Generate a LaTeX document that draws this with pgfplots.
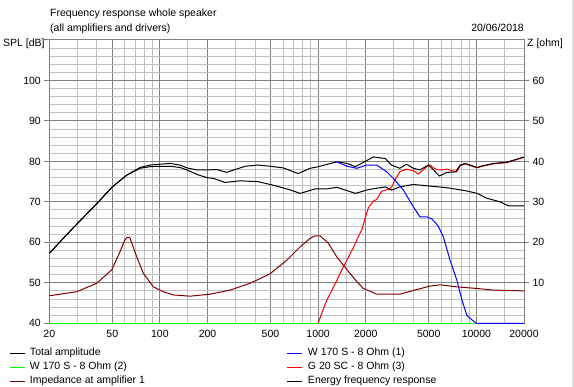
\documentclass[border=0pt]{standalone}
\usepackage{fontspec}
\setmainfont{Liberation Sans}
\usepackage{pgfplots}
\pgfplotsset{compat=1.18}
\definecolor{gridmaj}{RGB}{128,128,128}
\definecolor{gridmin}{RGB}{192,192,192}
\definecolor{impred}{RGB}{128,0,0}
\definecolor{pureblue}{RGB}{0,0,255}
\definecolor{purered}{RGB}{255,0,0}
\definecolor{puregreen}{RGB}{0,255,0}
\newcommand{\fs}{\fontsize{10.5}{12}\selectfont}
\begin{document}
\begin{tikzpicture}[x=1pt,y=1pt]
\useasboundingbox (0,0) rectangle (574,387);
\begin{axis}[
  at={(49.3pt,63.7pt)}, anchor=south west,
  width=474.7pt, height=283.3pt, scale only axis,
  clip=false,
  xmode=log, xmin=20, xmax=20000, ymin=40, ymax=110,
  xtick={20,50,100,200,500,1000,2000,5000,10000,20000},
  xticklabels={20,50,100,200,500,1000,2000,5000,10000,20000},
  minor xtick={30,40,60,70,80,90,150,300,400,600,700,800,900,1500,3000,4000,6000,7000,8000,9000,15000},
  ytick={40,50,60,70,80,90,100,110},
  yticklabels={40,50,60,70,80,90,100,{}},
  minor ytick={42,44,...,108},
  ytick pos=left,
  grid=both,
  major grid style={gridmaj, line width=1pt},
  minor grid style={gridmin, line width=1pt},
  axis line style={gridmaj, line width=1pt},
  tick align=outside,
  major tick length=5pt,
  minor tick length=0pt,
  xtick style={draw=none},
  ytick style={gridmaj, line width=1pt},
  tick label style={font=\fs, /pgf/number format/assume math mode=true},
  xticklabel style={yshift=2pt},
  legend style={at={(axis description cs:-0.0849,-0.082)}, anchor=north west,
    draw=none, fill=none, inner sep=0pt, outer sep=0pt, row sep=0pt, column sep=0pt,
    font=\fs, nodes={inner xsep=5pt, inner ysep=0pt, text height=9pt, text depth=5pt}},
  legend cell align=left,
  legend columns=2,
  legend image code/.code={\draw[line width=1pt, #1] (0pt,0pt) -- (15pt,0pt);},
]
% W 170 S (2) -- below range, drawn on the bottom edge
\addplot[puregreen, line width=1pt, forget plot] coordinates {(20,40) (20000,40)};
% G 20 SC (3)
\addplot[purered, line width=1pt, forget plot] coordinates {
(1000,40.0) (1054,42.5) (1136,45.8) (1252,49.0) (1446,54.0) (1678,58.9) (1756,60.6)
(1890,63.2) (1984,66.0) (2080,68.6) (2234,70.2) (2346,70.6) (2520,72.6) (2720,73.0)
(2840,73.2) (2950,74.0) (3060,75.5) (3300,77.5) (3620,78.1) (3994,77.7) (4300,76.9)
(4500,77.5) (4860,78.8) (5100,79.1) (5360,78.4) (5740,77.9) (6040,77.9) (6520,78.1)
(7160,77.6) (7520,77.4) (7920,79.0) (8500,79.4) (10120,78.4) (10860,78.8) (12820,79.4)
(15580,79.7) (20000,81.0)};
% Energy frequency response
\addplot[black, line width=1pt, forget plot] coordinates {
(20,57.3) (27.7,63.2) (40,69.6) (50,73.7) (61.7,76.6) (74.9,78.3) (86.6,78.7) (100,78.8)
(116,78.8) (134,78.5) (148,77.9) (171,76.8) (198,76.0) (218,75.8) (258,74.8) (320,75.2)
(418,75.0) (522,74.1) (648,73.1) (770,72.1) (958,73.2) (1136,73.2) (1312,73.6) (1720,72.1)
(2026,72.9) (2120,73.1) (2660,73.7) (2906,72.9) (3280,73.7) (3994,74.3) (5100,73.9)
(6520,73.5) (8700,72.7) (10120,72.1) (11640,70.9) (14140,70.0) (15940,69.0) (20000,69.0)};
% Total amplitude
\addplot[black, line width=1pt, forget plot] coordinates {
(20,57.3) (27.7,63.2) (40,69.6) (50,73.7) (61.7,76.6) (74.9,78.5) (86.6,79.1) (100,79.3)
(116,79.5) (134,79.1) (148,78.4) (171,77.9) (200,77.9) (228,78.0) (264,77.3) (346,78.8)
(418,79.1) (496,78.8) (602,78.4) (748,77.0) (890,78.3) (1002,78.7) (1312,79.9) (1524,79.5)
(1720,78.7) (1900,79.6) (2234,81.1) (2660,80.7) (2906,79.1) (3280,78.3) (3620,79.3)
(3994,78.3) (4400,77.9) (4980,79.1) (5360,77.9) (5840,76.4) (6520,77.3) (7360,77.4)
(7920,79.1) (8500,79.5) (10120,78.5) (10860,78.9) (12820,79.5) (15580,79.8) (20000,81.1)};
% W 170 S (1)
\addplot[pureblue, line width=1pt, forget plot] coordinates {
(1280,79.9) (1312,79.9) (1524,78.8) (1756,78.3) (2026,79.1) (2346,79.1) (2720,77.4)
(2990,75.8) (3460,72.9) (3994,68.8) (4400,66.3) (4860,66.3) (5220,65.8) (5400,65.2)
(5740,64.0) (6180,61.4) (6820,55.6) (7520,50.7) (8100,45.8) (8700,42.0) (9400,40.8)
(9860,40.2) (10000,40.0) (20000,40.0)};
\addlegendimage{draw=black}
\addlegendimage{draw=pureblue}
\addlegendimage{draw=puregreen}
\addlegendimage{draw=purered}
\addlegendimage{draw=impred}
\addlegendimage{draw=black}
\legend{{\parbox[b]{252pt}{Total amplitude}},W 170 S - 8 Ohm (1),
{\parbox[b]{252pt}{W 170 S - 8 Ohm (2)}},G 20 SC - 8 Ohm (3),
{\parbox[b]{252pt}{Impedance at amplifier 1}},Energy frequency response}
\end{axis}
\begin{axis}[
  at={(49.3pt,63.7pt)}, anchor=south west,
  width=474.7pt, height=283.3pt, scale only axis,
  xmode=log, xmin=20, xmax=20000, ymin=0, ymax=70,
  axis x line=none,
  axis y line*=right,
  axis line style={gridmaj, line width=1pt, -},
  ytick={10,20,30,40,50,60},
  tick align=outside,
  major tick length=5pt,
  ytick style={gridmaj, line width=1pt},
  tick label style={font=\fs, /pgf/number format/assume math mode=true},
]
% Impedance at amplifier 1 [ohm]
\addplot[impred, line width=1pt] coordinates {
(20,6.8) (29.8,7.8) (39.9,9.9) (49.6,13.2) (56,17.7) (60.2,20.7) (62,21.2) (64.5,21.2)
(71.4,16.4) (78.7,12.3) (90.9,9.0) (105,7.8) (122,7.0) (155,6.7) (208,7.2) (278,8.2)
(372,9.9) (496,12.2) (634,15.6) (770,18.9) (890,21.0) (958,21.6) (1030,21.6) (1160,19.8)
(1312,16.4) (1524,13.2) (1756,10.3) (1932,8.6) (2346,7.2) (2840,7.2) (3280,7.2)
(3994,8.1) (5100,9.2) (5920,9.5) (7520,9.0) (10120,8.6) (12820,8.2) (16280,8.1) (20000,8.0)};
\end{axis}
\node[anchor=base west, inner sep=0pt, font=\fs] at (50,370.6) {Frequency response whole speaker};
\node[anchor=base west, inner sep=0pt, font=\fs] at (50,355.3) {(all amplifiers and drivers)};
\node[anchor=base east, inner sep=0pt, font=\fs] at (524,355.3) {20/06/2018};
\node[anchor=base west, inner sep=0pt, font=\fs] at (3,340.3) {SPL [dB]};
\node[anchor=base west, inner sep=0pt, font=\fs] at (527,340.3) {Z [ohm]};
\draw[gray!25, line width=2pt] (573,0) -- (573,387);
\end{tikzpicture}
\end{document}
